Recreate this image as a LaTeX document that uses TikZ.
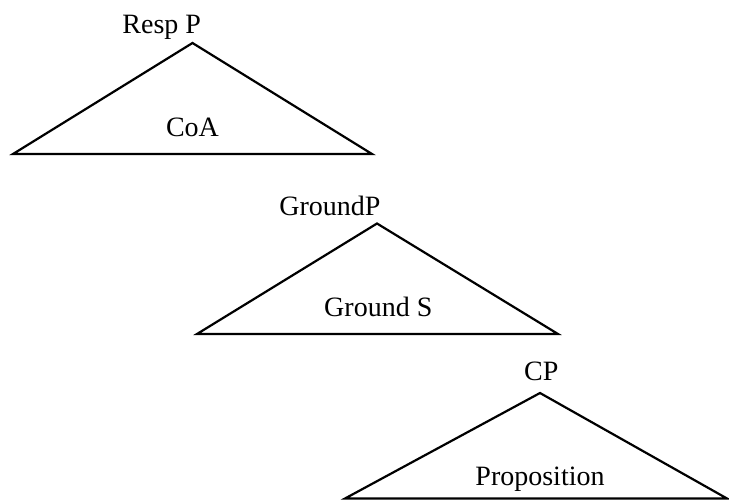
\documentclass[tikz,border=0pt]{standalone}
\usepackage{fontspec}
\setmainfont{Liberation Serif}
\begin{document}
\begin{tikzpicture}[x=1pt,y=-1pt,
  tri/.style={draw=black,line width=2.2pt,line join=miter},
  lbl/.style={anchor=base,inner sep=0pt,font=\fontsize{28}{33}\selectfont}]
\useasboundingbox (0,0) rectangle (729,500);
% RespP triangle
\coordinate (a1) at (192.5,43);
\coordinate (l1) at (13,154);
\coordinate (r1) at (372,154);
\draw[tri] (a1) -- (l1) -- (r1) -- cycle;
\node[lbl] (respP) at (161.7,33.3) {Resp P};
\node[lbl] (coa) at (192.5,136.7) {CoA};
% GroundP triangle
\coordinate (a2) at (377,223.5);
\coordinate (l2) at (197,334);
\coordinate (r2) at (558,334);
\draw[tri] (a2) -- (l2) -- (r2) -- cycle;
\node[lbl] (groundP) at (330,215) {GroundP};
\node[lbl] (groundS) at (378.3,316.7) {Ground S};
% CP triangle
\coordinate (a3) at (540,393);
\coordinate (l3) at (345,498.5);
\coordinate (r3) at (727,498.5);
\draw[tri] (a3) -- (l3) -- (r3) -- cycle;
\node[lbl] (cp) at (541.3,380) {CP};
\node[lbl] (prop) at (540,485) {Proposition};
\end{tikzpicture}
\end{document}
